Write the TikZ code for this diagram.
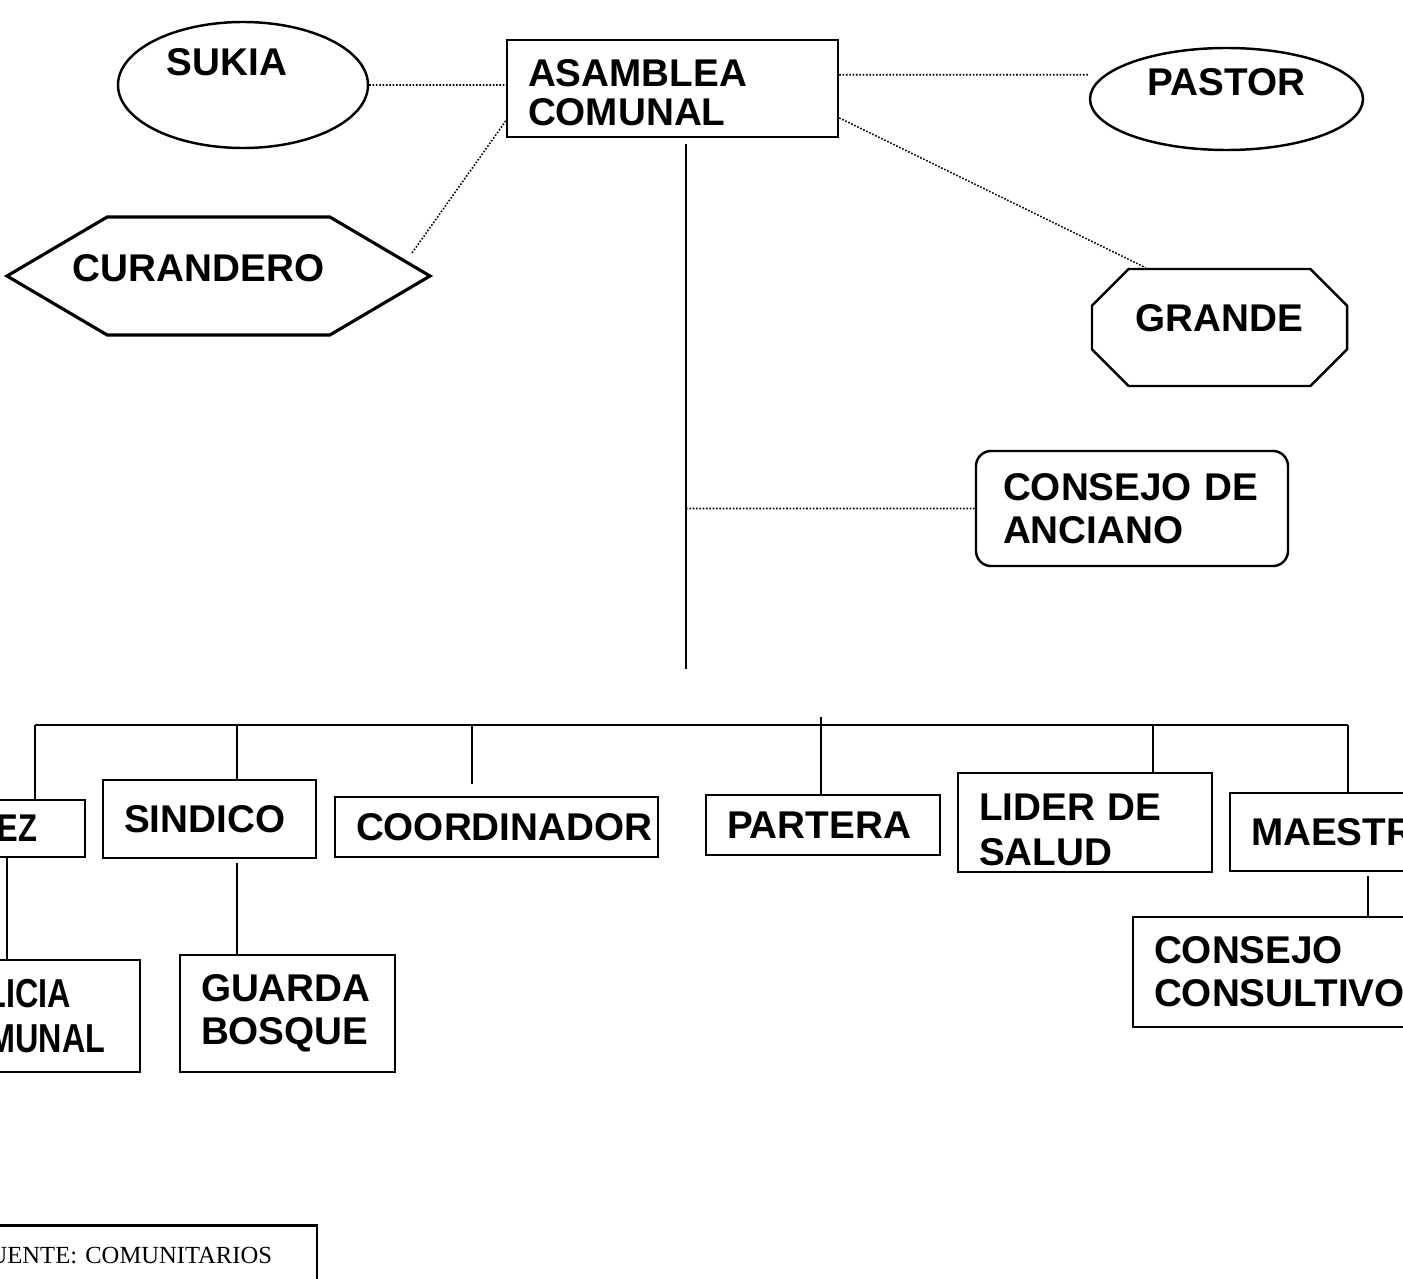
\documentclass[tikz,border=0pt]{standalone}
\usepackage{fontspec}
\setmainfont{Liberation Sans}
\newfontfamily\fuentefont{Liberation Serif}
\newfontfamily\narrowfont{Liberation Sans}[FakeStretch=0.8]
\usepackage{tikz}
\usetikzlibrary{shapes.geometric,shapes.symbols,shapes.misc}
\usetikzlibrary{positioning,calc}

\begin{document}
\begin{tikzpicture}[font=\bfseries\fontsize{11}{12.2}\selectfont,
	box/.style={rectangle, draw, line width=0.7pt, align=left, inner xsep=0.21cm, inner ysep=0pt},
	oval/.style={ellipse, draw, line width=0.7pt, inner sep=0pt, text height=8pt},
	link/.style={line width=0.45pt, dash pattern=on 0.45pt off 0.5pt},
	line/.style={line width=0.6pt}]
	\useasboundingbox (0,0) rectangle (14.03,-12.79);
	\clip (0,0) rectangle (14.03,-12.79);

	\node[box, text width=2.89cm, minimum height=0.97cm, text height=10.3pt, font=\bfseries\fontsize{11}{11.1}\selectfont] (asamblea) at (6.725,-0.885) {ASAMBLEA\\COMUNAL};
	\node[oval, minimum width=2.5cm, minimum height=1.26cm, text depth=13.2pt] (sukia) at (2.43,-0.85)   {SUKIA\hspace*{0.32cm}};
	\node[oval, minimum width=2.73cm, minimum height=1.02cm, text depth=9.8pt] (pastor) at (12.265,-0.99) {PASTOR};
	\node[signal, signal to=east and west, signal pointer angle=61, draw, line width=0.9pt,
		minimum width=4.23cm, minimum height=1.18cm, inner sep=0pt, text height=8pt, text depth=4.7pt] (curandero) at (2.185,-2.76) {\makebox[2.1cm]{CURANDERO\hspace*{0.4cm}}};
	\node[chamfered rectangle, chamfered rectangle xsep=0.34cm, draw, line width=0.7pt,
		minimum width=2.55cm, minimum height=1.17cm, inner sep=0pt, text height=8pt, text depth=5.8pt] (grande) at (12.195,-3.275) {GRANDE};
	\node[box, rounded corners=0.15cm, inner xsep=0.27cm, text width=2.58cm, minimum height=1.15cm] (anciano) at (11.32,-5.085) {CONSEJO DE\\ANCIANO};

	\node[box, text width=1.28cm, minimum height=0.57cm, font=\narrowfont\bfseries\fontsize{11}{12.2}\selectfont] (juez) at (0,-8.285) {\hspace*{0.22cm}JUEZ};
	\node[box, text width=1.71cm, minimum height=0.78cm] (sindico) at (2.095,-8.19)   {SINDICO};
	\node[box, text width=2.81cm, minimum height=0.60cm] (coord)   at (4.965,-8.27)   {COORDINADOR};
	\node[box, text width=1.92cm, minimum height=0.60cm] (partera) at (8.23,-8.25)    {PARTERA};
	\node[box, text width=2.12cm, minimum height=0.99cm, text height=12pt, font=\bfseries\fontsize{11}{12.8}\selectfont] (lider) at (10.85,-8.225) {LIDER DE\\SALUD};
	\node[box, text width=1.94cm, minimum height=0.78cm] (maestro) at (13.48,-8.32)   {MAESTRO};
	\node[box, text width=2.55cm, minimum height=1.10cm] (consul)  at (12.815,-9.72)  {CONSEJO\\CONSULTIVO};
	\node[box, text width=2.15cm, minimum height=1.12cm, font=\narrowfont\bfseries\fontsize{11.5}{12.8}\selectfont] (polic) at (0.115,-10.16) {\hspace*{0.36cm}POLICIA\\\hspace*{0.36cm}COMUNAL};
	\node[box, text width=1.73cm, minimum height=1.17cm] (guarda)  at (2.875,-10.135) {GUARDA\\BOSQUE};
	\node[box, inner xsep=0.15cm, text width=3.26cm, minimum height=0.6cm, font=\fuentefont\mdseries\fontsize{7}{8}\selectfont] (fuente) at (1.39,-12.555) {FUENTE: COMUNITARIOS};

	\coordinate (top)    at ($(asamblea.south)+(0.135,-0.06)$);
	\coordinate (curtip) at (4.12,-2.53);
	\coordinate (bus)    at (0.35,-7.25);
	\coordinate (busend) at (13.48,-7.25);

	\draw[link] (sukia.east) -- (sukia.east -| asamblea.west)
		([yshift=-0.36cm]asamblea.north east) -- ([yshift=-0.36cm]asamblea.north east -| pastor.west)
		(asamblea.350) -- (grande.141)
		(asamblea.191) -- (curtip)
		(anciano.west -| top) -- (anciano.west);

	\draw[line] (top) -- ++(0,-5.25)
		(bus) -- (busend)
		([xshift=0.35cm]juez.north) -- ([xshift=0.35cm]juez.north |- bus)
		([xshift=0.275cm]sindico.north) -- ([xshift=0.275cm]sindico.north |- bus)
		([xshift=-0.245cm,yshift=0.12cm]coord.north) -- ([xshift=-0.245cm]coord.north |- bus)
		([xshift=-0.02cm]partera.north) -- ([xshift=-0.02cm,yshift=0.08cm]partera.north |- bus)
		([xshift=0.68cm]lider.north) -- ([xshift=0.68cm]lider.north |- bus)
		(maestro.north) -- (maestro.north |- bus)
		([xshift=0.07cm]juez.south) -- ([xshift=0.07cm]juez.south |- polic.north)
		([xshift=0.275cm,yshift=-0.04cm]sindico.south) -- ([xshift=0.275cm]sindico.south |- guarda.north)
		([xshift=0.2cm,yshift=-0.04cm]maestro.south) -- ([xshift=0.2cm]maestro.south |- consul.north);
\end{tikzpicture}
\end{document}
